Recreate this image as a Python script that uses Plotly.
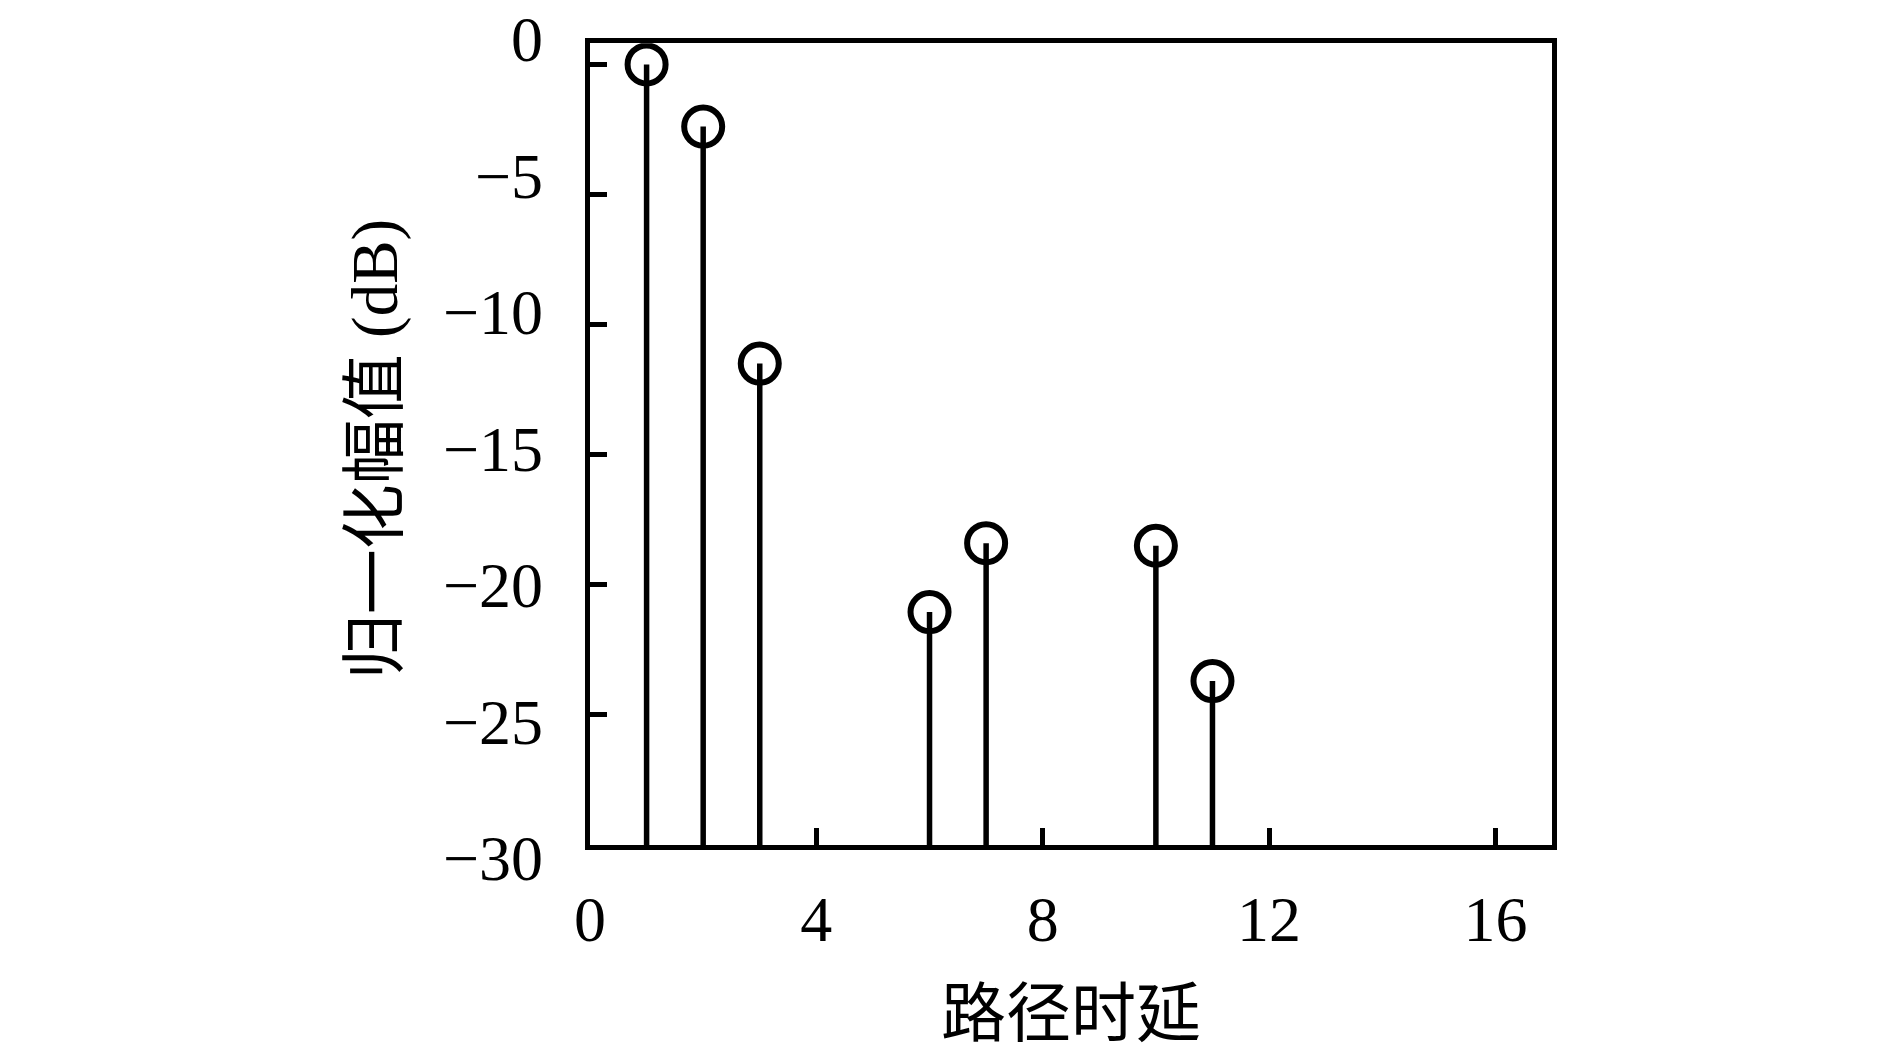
import plotly.graph_objects as go

# Data
delays = [1, 2, 3, 6, 7, 10, 11]
amplitudes_db = [0.0, -2.39, -11.5, -21.05, -18.4, -18.5, -23.7]
baseline_db = -30
x_ticks = [0, 4, 8, 12, 16]
y_ticks = [0, -5, -10, -15, -20, -25, -30]

x_title = "路径时延"
y_title = "归一化幅值 (dB)"

FONT = "Liberation Serif, Noto Sans CJK SC, serif"

fig = go.Figure()

fig.add_trace(go.Scatter(
    x=delays,
    y=amplitudes_db,
    mode="markers",
    marker=dict(symbol="circle-open", size=38, color="black",
                line=dict(width=6, color="black")),
    error_y=dict(type="data", symmetric=False,
                 array=[0] * len(amplitudes_db),
                 arrayminus=[a - baseline_db for a in amplitudes_db],
                 color="black", thickness=5.5, width=0),
    showlegend=False,
    hoverinfo="skip",
))

# invisible helper trace so the tick-label axis is drawn
fig.add_trace(go.Scatter(x=[x_ticks[0]], y=[baseline_db], yaxis="y2",
                         mode="markers", marker=dict(opacity=0),
                         showlegend=False, hoverinfo="skip"))

fig.update_layout(
    width=1890, height=1049,
    margin=dict(l=582, r=346, t=25, b=192, autoexpand=False),
    paper_bgcolor="white", plot_bgcolor="rgba(0,0,0,0)",
    font=dict(family=FONT, size=64, color="black"),
    xaxis=dict(
        range=[0, 17], tickvals=x_ticks, ticks="inside", ticklen=17,
        tickwidth=5, tickcolor="black", showline=True, linewidth=5,
        linecolor="black", mirror=True, showgrid=False, zeroline=False,
        anchor="y", ticklabelstandoff=14, automargin=False,
        tickfont=dict(family=FONT, size=64),
        title=dict(text=x_title, font=dict(family=FONT, size=65), standoff=38),
    ),
    yaxis=dict(
        range=[-30, 0.81], domain=[0.02404, 0.98762], tickvals=y_ticks,
        ticks="inside", ticklen=17, tickwidth=5, tickcolor="black",
        showline=True, linewidth=5, linecolor="black", mirror=True,
        showgrid=False, zeroline=False, showticklabels=False,
        anchor="x", automargin=False,
    ),
    yaxis2=dict(
        range=[-30.256, 0.205], domain=[0, 1], tickvals=y_ticks,
        ticks="", showline=False, showgrid=False, zeroline=False,
        anchor="free", position=0, side="left", ticklabelstandoff=47,
        ticklabeloverflow="allow", automargin=False,
        tickfont=dict(family=FONT, size=64),
        title=dict(text=y_title, font=dict(family=FONT, size=65), standoff=23),
    ),
)

fig.write_html("out.html")
